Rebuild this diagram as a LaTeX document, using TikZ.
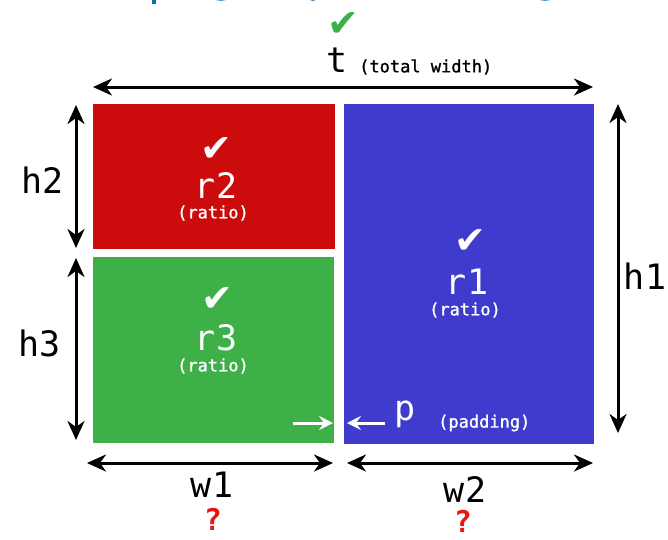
\documentclass[tikz,border=0pt]{standalone}
\usepackage{fontspec}
\setmainfont{DejaVu Sans Mono}
\newfontfamily\symfont{DejaVu Sans}
\newfontfamily\semibold{DejaVu Sans Mono}[FakeBold=1.2]
\usetikzlibrary{arrows.meta}
\definecolor{boxred}{RGB}{204,12,12}
\definecolor{boxgreen}{RGB}{61,176,72}
\definecolor{boxblue}{RGB}{63,59,204}
\definecolor{titleblue}{RGB}{20,110,170}
\definecolor{qred}{RGB}{235,20,20}
\tikzset{
  area/.style={draw=none, inner sep=0pt},
  dim/.style={line width=3pt, black, {Stealth[length=19pt,width=17pt,inset=6pt]}-{Stealth[length=19pt,width=17pt,inset=6pt]}},
  padarrow/.style={line width=3pt, white, -{Stealth[length=14pt,width=14pt,inset=5pt]}},
  biglabel/.style={inner sep=0pt, font=\fontsize{35}{35}\selectfont},
  smalllabel/.style={inner sep=0pt, font=\semibold\fontsize{17}{17}\selectfont},
  tick/.style={inner sep=0pt, font=\symfont\fontsize{38}{38}\selectfont},
  qmark/.style={inner sep=0pt, text=qred, font=\fontsize{30}{30}\selectfont\bfseries},
}
\begin{document}
\begin{tikzpicture}[x=1pt,y=-1pt]
\useasboundingbox (0,0) rectangle (668,539);
% clipped title fragments
\begin{scope}
\clip (0,0) rectangle (668,4.5);
\draw[titleblue, line width=3.5pt] (154,-10) -- (154,4);
\draw[titleblue, line width=3.5pt] (210,-9) arc[start angle=180, end angle=0, x radius=11, y radius=8];
\draw[titleblue, line width=3.5pt] (306,-9) arc[start angle=180, end angle=30, x radius=7, y radius=8];
\draw[titleblue, line width=3.5pt] (533,-9) arc[start angle=180, end angle=0, x radius=12, y radius=8];
\end{scope}

% boxes
\node[area, fill=boxred, minimum width=242pt, minimum height=145pt] (r2box) at (214,176.5) {};
\node[area, fill=boxgreen, minimum width=241pt, minimum height=186pt] (r3box) at (213.5,350) {};
\node[area, fill=boxblue, minimum width=250pt, minimum height=340pt] (r1box) at (469,274) {};

% box texts
\node[tick, text=white] (c2) at (216,150) {✔};
\node[biglabel, text=white] (r2) at (216,186) {r2};
\node[smalllabel, text=white] (q2) at (213,213) {(ratio)};
\node[tick, text=white] (c3) at (217,300) {✔};
\node[biglabel, text=white] (r3) at (216,338) {r3};
\node[smalllabel, text=white] (q3) at (213,366) {(ratio)};
\node[tick, text=white] (c1) at (470,242) {✔};
\node[biglabel, text=white] (r1) at (467,282) {r1};
\node[smalllabel, text=white] (q1) at (465,310) {(ratio)};

% total width
\node[tick, text=boxgreen] (ct) at (343,25) {✔};
\node[biglabel] (t) at (337,60) {t};
\node[smalllabel, anchor=west] (tw) at (359,67) {(total width)};
\coordinate (tl) at (93,87);
\coordinate (tr) at (593,87);
\draw[dim] (tl) -- (tr);

% left heights
\coordinate (h2a) at (76,105);
\coordinate (h2b) at (76,248);
\coordinate (h3a) at (76,258);
\coordinate (h3b) at (76,440);
\draw[dim] (h2a) -- (h2b);
\draw[dim] (h3a) -- (h3b);
\node[biglabel] (h2) at (43,180) {h2};
\node[biglabel] (h3) at (40,343) {h3};

% right height
\coordinate (h1a) at (618,104);
\coordinate (h1b) at (618,433);
\draw[dim] (h1a) -- (h1b);
\node[biglabel] (h1) at (645,276) {h1};

% widths
\coordinate (w1a) at (87,463);
\coordinate (w1b) at (333,463);
\coordinate (w2a) at (347,463);
\coordinate (w2b) at (593,463);
\draw[dim] (w1a) -- (w1b);
\draw[dim] (w2a) -- (w2b);
\node[biglabel] (w1) at (212,485) {w1};
\node[biglabel] (w2) at (465,489) {w2};
\node[qmark] (q1m) at (213,519) {?};
\node[qmark] (q2m) at (463,521) {?};

% padding
\coordinate (pa) at (293,423);
\coordinate (pb) at (333,423);
\coordinate (pc) at (385,423);
\coordinate (pd) at (347,423);
\draw[padarrow] (pa) -- (pb);
\draw[padarrow] (pc) -- (pd);
\node[biglabel, text=white] (p) at (405,414) {p};
\node[smalllabel, text=white, anchor=west] (pad) at (438,423) {(padding)};
\end{tikzpicture}
\end{document}
